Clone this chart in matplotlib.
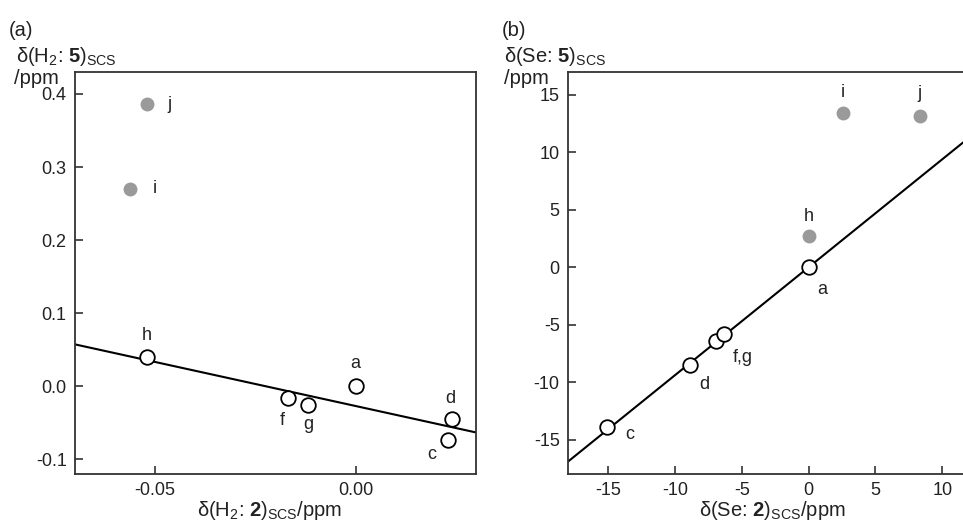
import matplotlib.pyplot as plt
import numpy as np

plt.rcParams['font.family'] = ['Liberation Sans', 'DejaVu Sans']
plt.rcParams['mathtext.fontset'] = 'custom'
plt.rcParams['mathtext.rm'] = 'Liberation Sans'
plt.rcParams['mathtext.bf'] = 'Liberation Sans:bold'
plt.rcParams['mathtext.it'] = 'Liberation Sans:italic'

# panel (a): H2 shifts
labels_a = ['a', 'c', 'd', 'f', 'g', 'h']
x_a = [0.0, 0.0229, 0.0239, -0.0169, -0.0119, -0.052]
y_a = [0.0, -0.074, -0.045, -0.016, -0.026, 0.040]
labels_a_out = ['i', 'j']
x_a_out = [-0.0562, -0.052]
y_a_out = [0.270, 0.386]
fit_a = (-1.205, -0.027)  # slope, intercept

# panel (b): Se shifts
labels_b = ['a', 'c', 'd', 'f', 'g']
x_b = [0.0, -15.05, -8.9, -6.96, -6.36]
y_b = [0.0, -13.95, -8.55, -6.45, -5.84]
labels_b_out = ['h', 'i', 'j']
x_b_out = [0.0, 2.55, 8.3]
y_b_out = [2.7, 13.4, 13.2]
fit_b = (0.94, 0.0)

W, H = 963, 523
fig = plt.figure(figsize=(W / 100, H / 100), dpi=100)


def px(x, y):
    return x / W, 1 - y / H


ax1 = fig.add_axes([75 / W, 1 - 474 / H, 401 / W, 402 / H])
ax2 = fig.add_axes([568 / W, 1 - 474 / H, 401 / W, 402 / H])

gray = '#9a9a9a'
tc = '#222222'
fs_tick = 13
fs_lab = 14.5
for ax in (ax1, ax2):
    ax.tick_params(direction='in', length=6, width=1.1, labelsize=fs_tick, pad=6,
                   colors=tc)
    for s in ax.spines.values():
        s.set_linewidth(1.3)
        s.set_color('#333333')

# (a)
ax1.set_xlim(-0.07, 0.03)
ax1.set_ylim(-0.12, 0.43)
xl = np.array(ax1.get_xlim())
ax1.plot(xl, fit_a[0] * xl + fit_a[1], color='black', lw=1.5, zorder=2)
ax1.plot(x_a, y_a, 'o', ms=10.5, mfc='white', mec='black', mew=1.3, zorder=3)
ax1.plot(x_a_out, y_a_out, 'o', ms=10, mfc=gray, mec='none', zorder=3)
ax1.set_xticks([-0.05, 0.0])
ax1.set_xticklabels(['-0.05', '0.00'])
ax1.set_yticks([-0.1, 0.0, 0.1, 0.2, 0.3, 0.4])
ax1.set_yticklabels(['-0.1', '0.0', '0.1', '0.2', '0.3', '0.4'])

offs_a = {'a': (0, 23), 'c': (-16, -14), 'd': (-1, 21), 'f': (-6, -23),
          'g': (0, -19), 'h': (0, 22), 'i': (24, 0), 'j': (22, 0)}
for lab, x, y in zip(labels_a + labels_a_out, x_a + x_a_out, y_a + y_a_out):
    ax1.annotate(lab, (x, y), xytext=offs_a[lab], textcoords='offset pixels',
                 ha='center', va='center', fontsize=fs_tick, color=tc)

# (b)
ax2.set_xlim(-18, 12)
ax2.set_ylim(-18, 17)
xl = np.array(ax2.get_xlim())
ax2.plot(xl, fit_b[0] * xl + fit_b[1], color='black', lw=1.5, zorder=2)
ax2.plot(x_b, y_b, 'o', ms=10.5, mfc='white', mec='black', mew=1.3, zorder=3)
ax2.plot(x_b_out, y_b_out, 'o', ms=10, mfc=gray, mec='none', zorder=3)
ax2.set_xticks([-15, -10, -5, 0, 5, 10])
ax2.set_yticks([-15, -10, -5, 0, 5, 10, 15])
ax2.set_yticklabels(['-15', '-10', '-5', '0', '5', '10', '15'])
ax2.set_xticklabels(['-15', '-10', '-5', '0', '5', '10'])

offs_b = {'a': (14, -22), 'c': (22, -7), 'd': (15, -19), 'h': (0, 20),
          'i': (0, 21), 'j': (0, 22)}
for lab, x, y in zip(['a', 'c', 'd'] + labels_b_out,
                     [x_b[0], x_b[1], x_b[2]] + x_b_out,
                     [y_b[0], y_b[1], y_b[2]] + y_b_out):
    ax2.annotate(lab, (x, y), xytext=offs_b[lab], textcoords='offset pixels',
                 ha='center', va='center', fontsize=fs_tick, color=tc)
ax2.annotate('f,g', (x_b[4], y_b[4]), xytext=(19, -23), textcoords='offset pixels',
             ha='center', va='center', fontsize=fs_tick, color=tc)

# axis titles / panel letters
fig.text(*px(9, 31), '(a)', fontsize=fs_lab, va='center', ha='left', color=tc)
fig.text(*px(16, 56), r'δ(H$_2$: $\mathbf{5}$)$_{\mathrm{SCS}}$', fontsize=fs_lab,
         va='center', ha='left', color=tc)
fig.text(*px(14, 78), '/ppm', fontsize=fs_lab, va='center', ha='left', color=tc)
fig.text(*px(270, 510), r'δ(H$_2$: $\mathbf{2}$)$_{\mathrm{SCS}}$/ppm', fontsize=fs_lab,
         va='center', ha='center', color=tc)

fig.text(*px(502, 31), '(b)', fontsize=fs_lab, va='center', ha='left', color=tc)
fig.text(*px(504, 56), r'δ(Se: $\mathbf{5}$)$_{\mathrm{SCS}}$', fontsize=fs_lab,
         va='center', ha='left', color=tc)
fig.text(*px(504, 78), '/ppm', fontsize=fs_lab, va='center', ha='left', color=tc)
fig.text(*px(772, 510), r'δ(Se: $\mathbf{2}$)$_{\mathrm{SCS}}$/ppm', fontsize=fs_lab,
         va='center', ha='center', color=tc)

fig.savefig('out.png', dpi=100)
